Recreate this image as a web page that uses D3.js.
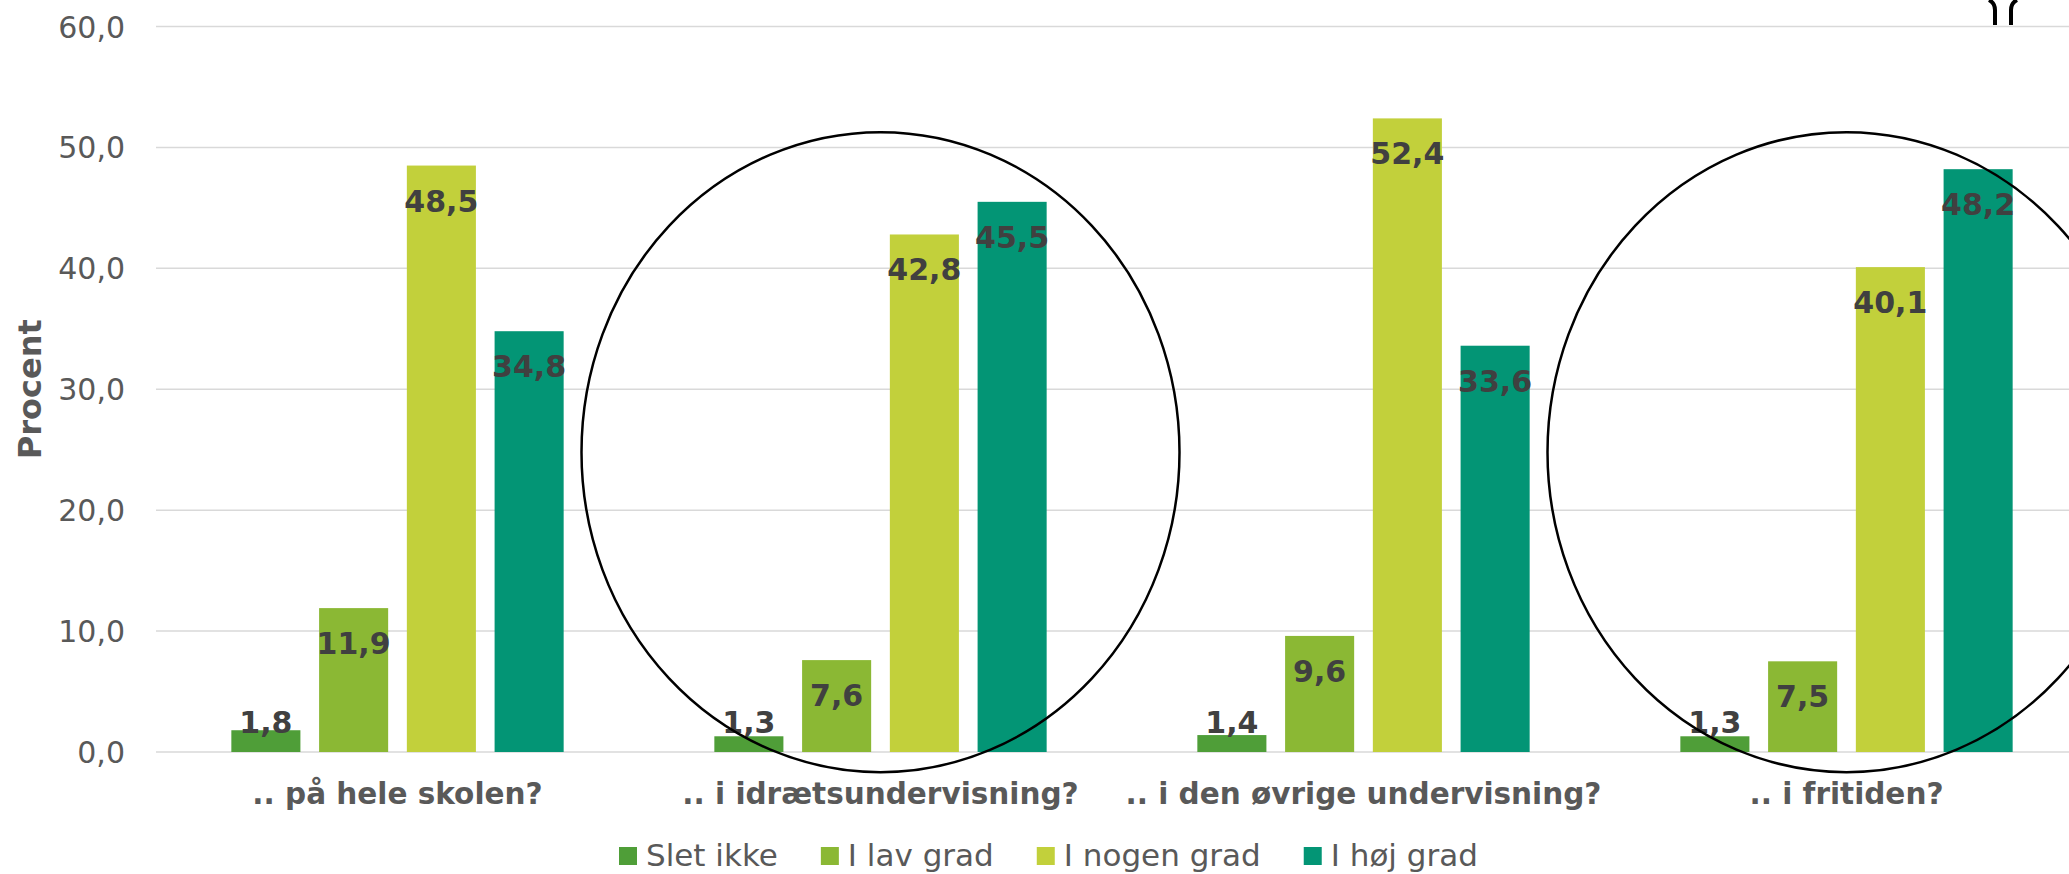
<!DOCTYPE html>
<html>
<head>
<meta charset="utf-8">
<script src="https://cdn.jsdelivr.net/npm/d3@7"></script>
<style>
    html, body { margin: 0; padding: 0; background: #fff; }
    svg { display: block; font-family: 'DejaVu Sans', sans-serif; }
</style>
</head>
<body>
<script>
// data
var categories = ['.. på hele skolen?', '.. i idrætsundervisning?', '.. i den øvrige undervisning?', '.. i fritiden?'];
var seriesNames = ['Slet ikke', 'I lav grad', 'I nogen grad', 'I høj grad'];
var sletIkke = [1.8, 1.3, 1.4, 1.3];
var iLavGrad = [11.9, 7.6, 9.6, 7.5];
var iNogenGrad = [48.5, 42.8, 52.4, 40.1];
var iHoejGrad = [34.8, 45.5, 33.6, 48.2];
var yTicks = [0, 10, 20, 30, 40, 50, 60];
var colors = ['#4f9e38', '#8bb834', '#c2d03b', '#039575'];
// kategorier der er ringet ind
var circled = ['.. i idrætsundervisning?', '.. i fritiden?'];

(function () {
    var width = 2069;
    var height = 874;
    var seriesValues = [sletIkke, iLavGrad, iNogenGrad, iHoejGrad];
    var locale = d3.formatLocale({ decimal: ',', thousands: '.', grouping: [3], currency: ['', ' kr'] });
    var fmt = locale.format('.1f');

    var svg = d3.select('body').append('svg')
        .attr('width', width)
        .attr('height', height);

    var y = d3.scaleLinear()
        .domain([0, 60])
        .range([752, 26.5]);

    var x0 = d3.scaleBand()
        .domain(categories)
        .range([156, 2088])
        .padding(0);

    var x1 = d3.scaleBand()
        .domain(seriesNames)
        .range([x0.bandwidth() * 0.156, x0.bandwidth() * 0.844])
        .paddingInner(0.213)
        .paddingOuter(0);

    // gitterlinjer
    svg.append('g').selectAll('line')
        .data(yTicks)
        .enter()
        .append('line')
        .attr('x1', x0.range()[0])
        .attr('x2', width)
        .attr('y1', function(d) { return y(d); })
        .attr('y2', function(d) { return y(d); })
        .attr('stroke', '#d9d9d9')
        .attr('stroke-width', 1.5);

    // y-akse tekster
    svg.append('g').selectAll('text')
        .data(yTicks)
        .enter()
        .append('text')
        .attr('x', 125)
        .attr('y', function(d) { return y(d) + 11; })
        .attr('text-anchor', 'end')
        .attr('font-size', 30)
        .attr('fill', '#595959')
        .text(function(d) { return fmt(d); });

    svg.append('text')
        .attr('transform', 'translate(41,' + ((y(0) + y(60)) / 2) + ') rotate(-90)')
        .attr('text-anchor', 'middle')
        .attr('font-size', 32)
        .attr('font-weight', 'bold')
        .attr('fill', '#595959')
        .text('Procent');

    // søjler
    var rows = [];
    categories.forEach(function(c, i) {
        seriesNames.forEach(function(s, j) {
            rows.push({ cat: c, series: s, idx: j, value: seriesValues[j][i] });
        });
    });

    var groups = svg.append('g');
    groups.selectAll('rect')
        .data(rows)
        .enter()
        .append('rect')
        .attr('x', function(d) { return x0(d.cat) + x1(d.series); })
        .attr('y', function(d) { return y(d.value); })
        .attr('width', x1.bandwidth())
        .attr('height', function(d) { return y(0) - y(d.value); })
        .attr('fill', function(d) { return colors[d.idx]; });

    groups.selectAll('text')
        .data(rows)
        .enter()
        .append('text')
        .attr('x', function(d) { return x0(d.cat) + x1(d.series) + x1.bandwidth() / 2; })
        .attr('y', function(d) { return Math.min(y(d.value) + 46, y(0) - 19); })
        .attr('text-anchor', 'middle')
        .attr('font-size', 30)
        .attr('font-weight', 'bold')
        .attr('fill', '#404040')
        .text(function(d) { return fmt(d.value); });

    // kategori tekster
    svg.append('g').selectAll('text')
        .data(categories)
        .enter()
        .append('text')
        .attr('x', function(d) { return x0(d) + x0.bandwidth() / 2; })
        .attr('y', 804)
        .attr('text-anchor', 'middle')
        .attr('font-size', 29.5)
        .attr('font-weight', 'bold')
        .attr('fill', '#595959')
        .text(function(d) { return d; });

    // ringe rundt om udvalgte grupper
    svg.append('g').selectAll('ellipse')
        .data(circled)
        .enter()
        .append('ellipse')
        .attr('cx', function(d) { return x0(d) + x0.bandwidth() / 2; })
        .attr('cy', y(24.8))
        .attr('rx', 299)
        .attr('ry', 320)
        .attr('fill', 'none')
        .attr('stroke', '#000')
        .attr('stroke-width', 2.5);

    // lille afskåret figur oppe i hjørnet
    svg.append('path')
        .attr('d', 'M1989,0 Q1995,3 1995,10 L1995,25 M2017,0 Q2011,3 2011,10 L2011,25')
        .attr('fill', 'none')
        .attr('stroke', '#000')
        .attr('stroke-width', 4);

    // forklaring
    var legend = svg.append('g');
    var lx = 619;
    seriesNames.forEach(function(s, i) {
        legend.append('rect')
            .attr('x', lx)
            .attr('y', 847)
            .attr('width', 18)
            .attr('height', 18)
            .attr('fill', colors[i]);
        var t = legend.append('text')
            .attr('x', lx + 27)
            .attr('y', 866)
            .attr('font-size', 31)
            .attr('fill', '#595959')
            .text(s);
        lx += 27 + t.node().getComputedTextLength() + 43;
    });
}());
</script>
</body>
</html>
